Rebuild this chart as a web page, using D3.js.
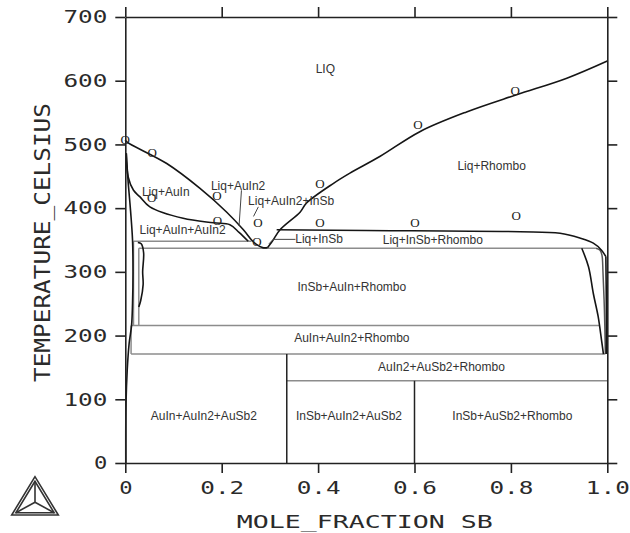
<!DOCTYPE html>
<html>
<head>
<meta charset="utf-8">
<script src="https://cdn.jsdelivr.net/npm/d3@7"></script>
<style>
  body { margin: 0; background: #fff; }
  svg { display: block; }
</style>
</head>
<body>
<svg id="chart" width="630" height="533"></svg>
<script>
// axis ticks
const xTicks = [0, 0.2, 0.4, 0.6, 0.8, 1.0];
const xTickLabels = ["0", "0.2", "0.4", "0.6", "0.8", "1.0"];
const tTicks = [0, 100, 200, 300, 400, 500, 600, 700];

// phase boundaries, [mole fraction Sb, temperature C]
const liquidusLeft = [[0, 507], [0.003, 504], [0.086, 470], [0.155, 431], [0.21, 394], [0.245, 366], [0.262, 350], [0.272, 343], [0.285, 338], [0.295, 338]];
const liquidusRight = [[0.295, 338], [0.305, 348], [0.321, 366], [0.363, 394], [0.376, 408], [0.432, 439], [0.466, 455], [0.528, 481], [0.611, 520], [0.708, 551], [0.812, 578], [0.916, 604], [1.0, 631]];
const liquidusAuIn = [[0.002, 486], [0.006, 449], [0.017, 428], [0.03, 418], [0.051, 402], [0.12, 384], [0.183, 377], [0.217, 374], [0.236, 362], [0.255, 348]];
const rhomboTop = [[0.314, 366], [0.5, 365], [0.819, 363], [0.902, 360.5], [0.943, 353], [0.971, 345], [0.988, 334], [0.997, 324]];
const rhomboSolvus = [[0.947, 337], [0.961, 308], [0.971, 266], [0.981, 230], [0.988, 193], [0.992, 171]];
const rhomboInner = [[0.976, 337], [0.985, 334], [0.989, 326], [0.991, 300], [0.994, 240], [0.996, 171]];
const rhomboEdge = [[0.997, 324], [0.998, 250], [0.998, 171]];
const auInSolvus = [[0.002, 486], [0.006, 440], [0.011, 395], [0.015, 350], [0.016, 300], [0.015, 250], [0.013, 216], [0.008, 188], [0.004, 146], [0.0015, 94], [0.001, 0]];
const auIn2Loop = [[0.026, 346], [0.033, 344], [0.038, 330], [0.036, 300], [0.037, 280], [0.032, 255], [0.028, 245]];

// invariant tie lines [x1, x2, T] and vertical boundaries [x, T1, T2]
const tieLines = [[0.017, 0.262, 348], [0.028, 0.976, 337], [0.013, 0.984, 216], [0.012, 0.996, 171], [0.335, 1.0, 129]];
const tieVerticals = [[0.017, 216, 348], [0.028, 216, 337], [0.012, 171, 216]];
const phaseVerticals = [[0.335, 0, 171], [0.6, 0, 129]];

// experimental points
const expX = [0, 0.056, 0.055, 0.19, 0.191, 0.275, 0.273, 0.404, 0.404, 0.607, 0.601, 0.809, 0.811];
const expT = [508, 487, 416, 420, 381, 377, 347, 439, 378, 532, 377, 584, 389];

// region labels and their anchors
const regionNames = ["LIQ", "Liq+Rhombo", "Liq+InSb+Rhombo", "Liq+InSb", "Liq+AuIn", "Liq+AuIn2", "Liq+AuIn2+InSb",
  "Liq+AuIn+AuIn2", "InSb+AuIn+Rhombo", "AuIn+AuIn2+Rhombo", "AuIn2+AuSb2+Rhombo", "AuIn+AuIn2+AuSb2",
  "InSb+AuIn2+AuSb2", "InSb+AuSb2+Rhombo"];
const regionX = [0.415, 0.76, 0.638, 0.402, 0.084, 0.234, 0.344, 0.119, 0.47, 0.47, 0.656, 0.163, 0.464, 0.803];
const regionT = [618, 466, 350, 351, 425, 435, 411, 365, 276, 196, 150, 73, 74, 74];
const leaders = [
  [[0.241, 428], [0.236, 372]],
  [[0.276, 402], [0.266, 387]],
  [[0.298, 344], [0.307, 351], [0.353, 351]]
];

const svg = d3.select("#chart");
const x = d3.scaleLinear().domain([0, 1]).range([125.3, 607.3]);
const y = d3.scaleLinear().domain([0, 700]).range([463, 17]);

svg.append("rect").attr("width", 630).attr("height", 533).attr("fill", "#fff");

const line = d3.line().x(d => x(d[0])).y(d => y(d[1])).curve(d3.curveCatmullRom.alpha(0.5));
const straight = d3.line().x(d => x(d[0])).y(d => y(d[1]));

// grey invariant lines
svg.selectAll(".tie").data(tieLines).enter().append("line")
  .attr("x1", d => x(d[0])).attr("x2", d => x(d[1]))
  .attr("y1", d => y(d[2])).attr("y2", d => y(d[2]))
  .attr("stroke", "#8c8c8c").attr("stroke-width", 1.5);
svg.selectAll(".tiev").data(tieVerticals).enter().append("line")
  .attr("x1", d => x(d[0])).attr("x2", d => x(d[0]))
  .attr("y1", d => y(d[1])).attr("y2", d => y(d[2]))
  .attr("stroke", "#8c8c8c").attr("stroke-width", 1.5);
svg.append("path").attr("d", line(rhomboInner))
  .attr("fill", "none").attr("stroke", "#555").attr("stroke-width", 1.5);

// black phase boundaries
svg.selectAll(".pv").data(phaseVerticals).enter().append("line")
  .attr("x1", d => x(d[0])).attr("x2", d => x(d[0]))
  .attr("y1", d => y(d[1])).attr("y2", d => y(d[2]))
  .attr("stroke", "#222").attr("stroke-width", 1.5);

[liquidusLeft, liquidusRight, liquidusAuIn, rhomboTop, rhomboSolvus, rhomboEdge, auInSolvus, auIn2Loop].forEach(pts => {
  svg.append("path").attr("d", line(pts))
    .attr("fill", "none").attr("stroke", "#151515").attr("stroke-width", 1.6);
});

leaders.forEach(pts => {
  svg.append("path").attr("d", straight(pts))
    .attr("fill", "none").attr("stroke", "#444").attr("stroke-width", 1);
});

// experimental points drawn as letter O
svg.selectAll(".exp").data(expX).enter().append("text")
  .attr("x", d => x(d))
  .attr("y", (d, i) => y(expT[i]) + 4.5)
  .attr("text-anchor", "middle")
  .attr("font-family", "Liberation Serif, serif")
  .attr("font-size", "13px")
  .attr("fill", "#222")
  .text("O");

// region labels
svg.selectAll(".lab").data(regionNames).enter().append("text")
  .attr("x", (d, i) => x(regionX[i]))
  .attr("y", (d, i) => y(regionT[i]) + 4)
  .attr("text-anchor", "middle")
  .attr("font-family", "Liberation Sans, Arial, sans-serif")
  .attr("font-size", "12px")
  .attr("fill", "#333")
  .text(d => d);

// axes
const monoFont = "DejaVu Sans Mono, monospace";
function styleAxis(g) {
  g.select(".domain").attr("stroke", "#222").attr("stroke-width", 1.6);
  g.selectAll(".tick line").attr("stroke", "#222").attr("stroke-width", 1.6);
  g.selectAll(".tick text")
    .attr("font-family", monoFont).attr("font-size", "18px").attr("fill", "#2a2a2a")
    .attr("lengthAdjust", "spacingAndGlyphs")
    .attr("textLength", function () { return this.textContent.length * 15.3 - 2; });
}

svg.append("g").attr("transform", "translate(0,463)")
  .call(d3.axisBottom(x).tickValues(xTicks).tickFormat((d, i) => xTickLabels[i]).tickSize(10).tickSizeOuter(0).tickPadding(8))
  .call(styleAxis);
svg.append("g").attr("transform", "translate(125.3,0)")
  .call(d3.axisLeft(y).tickValues(tTicks).tickFormat(d3.format("d")).tickSize(10).tickSizeOuter(0).tickPadding(8))
  .call(styleAxis);
svg.append("g").attr("transform", "translate(0,17)")
  .call(d3.axisTop(x).tickValues(xTicks).tickFormat("").tickSize(10).tickSizeOuter(0))
  .call(styleAxis);
svg.append("g").attr("transform", "translate(607.3,0)")
  .call(d3.axisRight(y).tickValues(tTicks).tickFormat("").tickSize(10).tickSizeOuter(0))
  .call(styleAxis);

// axis titles
svg.append("text")
  .attr("x", 364.7).attr("y", 528)
  .attr("text-anchor", "middle")
  .attr("font-family", monoFont).attr("font-size", "18px").attr("fill", "#2a2a2a")
  .attr("textLength", 256).attr("lengthAdjust", "spacingAndGlyphs")
  .text("MOLE_FRACTION SB");
svg.append("text")
  .attr("transform", "translate(49.5,242.5) rotate(-90)")
  .attr("text-anchor", "middle")
  .attr("font-family", monoFont).attr("font-size", "22px").attr("fill", "#2a2a2a")
  .attr("textLength", 279).attr("lengthAdjust", "spacingAndGlyphs")
  .text("TEMPERATURE_CELSIUS");

// Thermo-Calc logo
const logo = svg.append("g").attr("fill", "none").attr("stroke", "#333").attr("stroke-width", 1.6);
const cx = 35, cy = 502.2;
const tri = [[35, 476.7], [11.7, 515], [58.3, 515]];
[1, 0.82].forEach(s => {
  logo.append("path")
    .attr("d", d3.line()(tri.map(p => [cx + (p[0] - cx) * s, cy + (p[1] - cy) * s])) + "Z");
});
tri.forEach(p => {
  logo.append("line")
    .attr("x1", cx).attr("y1", cy)
    .attr("x2", cx + (p[0] - cx) * 0.82).attr("y2", cy + (p[1] - cy) * 0.82);
});
</script>
</body>
</html>
